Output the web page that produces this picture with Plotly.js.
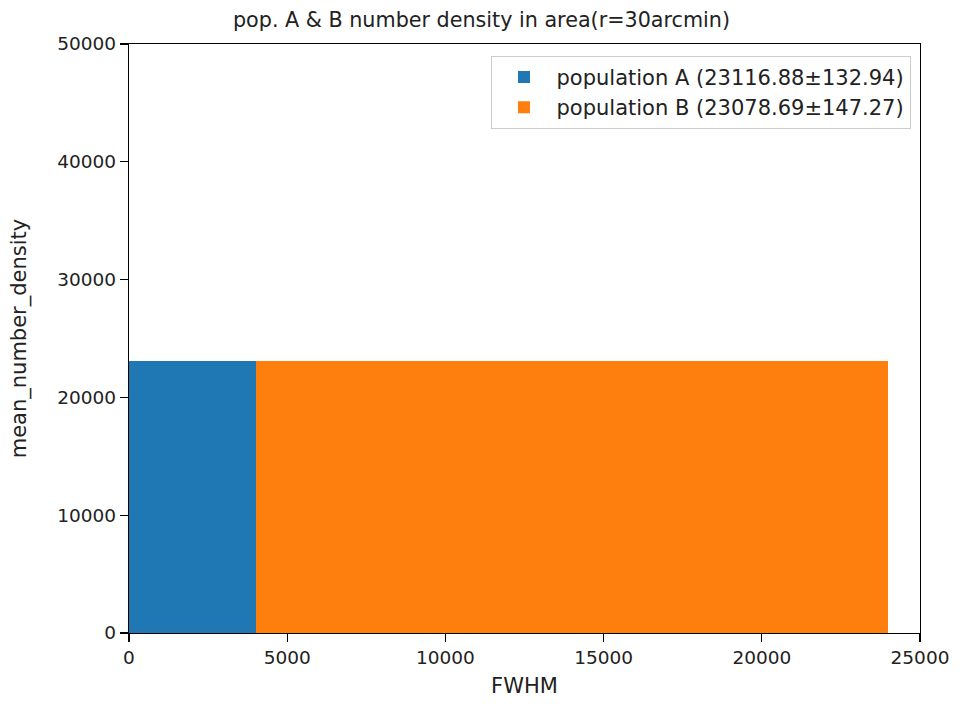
<!DOCTYPE html>
<html>
<head>
<meta charset="utf-8">
<script src="https://cdn.plot.ly/plotly-3.0.1.min.js"></script>
<style>html,body{margin:0;padding:0;background:#fff;}#chart{width:963px;height:704px;}</style>
</head>
<body>
<div id="chart"></div>
<script>
const seriesNames = ["population A (23116.88±132.94)", "population B (23078.69±147.27)"];
const binStart = [0, 4000];
const binEnd = [4000, 24000];
const values = [23116.88, 23078.69];
const colors = ["#1f77b4", "#ff7f0e"];
const xTicks = [0, 5000, 10000, 15000, 20000, 25000];
const yTicks = [0, 10000, 20000, 30000, 40000, 50000];

const traces = seriesNames.map((name, i) => ({
  type: "bar",
  name: name,
  x: [(binStart[i] + binEnd[i]) / 2],
  y: [values[i]],
  width: [binEnd[i] - binStart[i]],
  marker: {color: colors[i], line: {width: 0}},
  hoverinfo: "x+y+name"
}));

const fam = "DejaVu Sans, sans-serif";
const tickFont = {family: fam, size: 18.5, color: "#222"};
const labelFont = {family: fam, size: 21, color: "#222"};
const layout = {
  width: 963, height: 704,
  margin: {l: 129, r: 43, t: 44, b: 71},
  paper_bgcolor: "#fff", plot_bgcolor: "#fff",
  font: tickFont,
  title: {text: "pop. A & B number density in area(r=30arcmin)", font: {family: fam, size: 20.7, color: "#222"}, x: 0.5, xanchor: "center", y: 0.972, yanchor: "middle"},
  barmode: "overlay",
  bargap: 0,
  showlegend: true,
  legend: {x: 0.988, xanchor: "right", y: 0.98, yanchor: "top", bgcolor: "rgba(255,255,255,0.8)", bordercolor: "#ccc", borderwidth: 1, font: {family: fam, size: 21, color: "#222"}, itemwidth: 55, tracegroupgap: 6},
  xaxis: {
    range: [0, 25000], tickvals: xTicks, ticktext: xTicks.map(String),
    showgrid: false, zeroline: false, showline: true, mirror: true, linecolor: "#000", linewidth: 1.2,
    ticks: "outside", ticklen: 8, tickwidth: 1.2, tickcolor: "#000", tickfont: tickFont,
    title: {text: "FWHM", font: labelFont, standoff: 10}
  },
  yaxis: {
    range: [0, 50000], tickvals: yTicks, ticktext: yTicks.map(String),
    showgrid: false, zeroline: false, showline: true, mirror: true, linecolor: "#000", linewidth: 1.2,
    ticks: "outside", ticklen: 8, tickwidth: 1.2, tickcolor: "#000", tickfont: tickFont,
    title: {text: "mean_number_density", font: labelFont, standoff: 24}
  }
};
Plotly.newPlot("chart", traces, layout, {displayModeBar: false, staticPlot: true});
</script>
</body>
</html>
